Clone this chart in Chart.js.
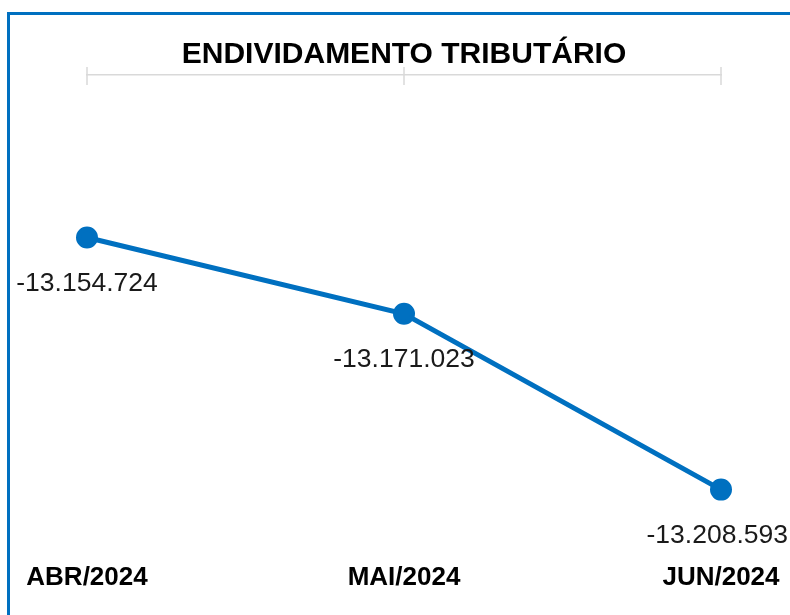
<!DOCTYPE html>
<html>
<head>
<meta charset="utf-8">
<script src="https://cdn.jsdelivr.net/npm/chart.js@4"></script>
<style>
  html, body { margin: 0; padding: 0; background: #fff; overflow: hidden; }
  canvas { display: block; }
</style>
</head>
<body>
<canvas id="chart-debt" width="790" height="615"></canvas>
<script>
// dados do gráfico
const meses = ['ABR/2024', 'MAI/2024', 'JUN/2024'];
const endividamento = [-13154724, -13171023, -13208593];
const eixoMin = -13220000;
const eixoMax = -13120000;

const azul = '#0070C0';

function formatBR(v) {
    return v.toLocaleString('pt-BR');
}

// moldura azul (topo e esquerda)
const moldura = {
    id: 'moldura',
    beforeDraw(chart) {
        const ctx = chart.ctx;
        ctx.save();
        ctx.fillStyle = '#fff';
        ctx.fillRect(0, 0, chart.width, chart.height);
        ctx.fillStyle = azul;
        ctx.fillRect(7, 12, chart.width - 7, 3);
        ctx.fillRect(7, 12, 3, chart.height - 12);
        ctx.restore();
    }
};

// marcas do eixo superior e rótulos dos pontos
const extras = {
    id: 'extras',
    afterDatasetsDraw(chart) {
        const ctx = chart.ctx;
        const x = chart.scales.x;
        const top = chart.chartArea.top;
        ctx.save();
        ctx.strokeStyle = '#d9d9d9';
        ctx.lineWidth = 1.5;
        meses.forEach((m, i) => {
            const px = x.getPixelForValue(i);
            ctx.beginPath();
            ctx.moveTo(px, top - 8);
            ctx.lineTo(px, top + 10);
            ctx.stroke();
        });

        const meta = chart.getDatasetMeta(0);
        ctx.font = '26.5px "Liberation Sans", Arial, sans-serif';
        ctx.fillStyle = '#1a1a1a';
        ctx.textAlign = 'center';
        ctx.textBaseline = 'middle';
        meta.data.forEach((pt, i) => {
            const txt = formatBR(endividamento[i]);
            const w = ctx.measureText(txt).width;
            let cx = pt.x;
            cx = Math.min(cx, chart.width - 2 - w / 2);
            ctx.fillText(txt, cx, pt.y + 46);
        });
        ctx.restore();
    }
};

function initChart() {
    const el = document.getElementById('chart-debt');
    new Chart(el, {
        type: 'line',
        data: {
            labels: meses,
            datasets: [{
                data: endividamento,
                borderColor: azul,
                backgroundColor: azul,
                borderWidth: 5,
                pointRadius: 8.5,
                pointHoverRadius: 8.5,
                fill: false,
                tension: 0
            }]
        },
        options: {
            responsive: false,
            animation: false,
            layout: { padding: { left: 87, right: 69, top: 0, bottom: 0 } },
            plugins: {
                legend: { display: false },
                tooltip: { enabled: false },
                title: {
                    display: true,
                    text: 'ENDIVIDAMENTO TRIBUTÁRIO',
                    color: '#000',
                    font: { family: '"Liberation Sans", Arial, sans-serif', size: 30, weight: 'bold' },
                    padding: { top: 37, bottom: 2 }
                }
            },
            scales: {
                x: {
                    type: 'category',
                    position: 'top',
                    offset: false,
                    grid: { display: false, drawTicks: false },
                    border: { display: true, color: '#d9d9d9', width: 1.5 },
                    ticks: { display: false }
                },
                x2: {
                    type: 'category',
                    labels: meses,
                    position: 'bottom',
                    offset: false,
                    grid: { display: false, drawTicks: false },
                    border: { display: false },
                    ticks: {
                        color: '#000',
                        padding: 19,
                        maxRotation: 0,
                        autoSkip: false,
                        font: { family: '"Liberation Sans", Arial, sans-serif', size: 26, weight: 'bold' }
                    },
                    afterFit(scale) {
                        scale.height = 72;
                        scale.paddingLeft = 0;
                        scale.paddingRight = 0;
                    }
                },
                y: {
                    display: false,
                    min: eixoMin,
                    max: eixoMax
                }
            }
        },
        plugins: [moldura, extras]
    });
}

document.addEventListener('DOMContentLoaded', initChart);
</script>
</body>
</html>
